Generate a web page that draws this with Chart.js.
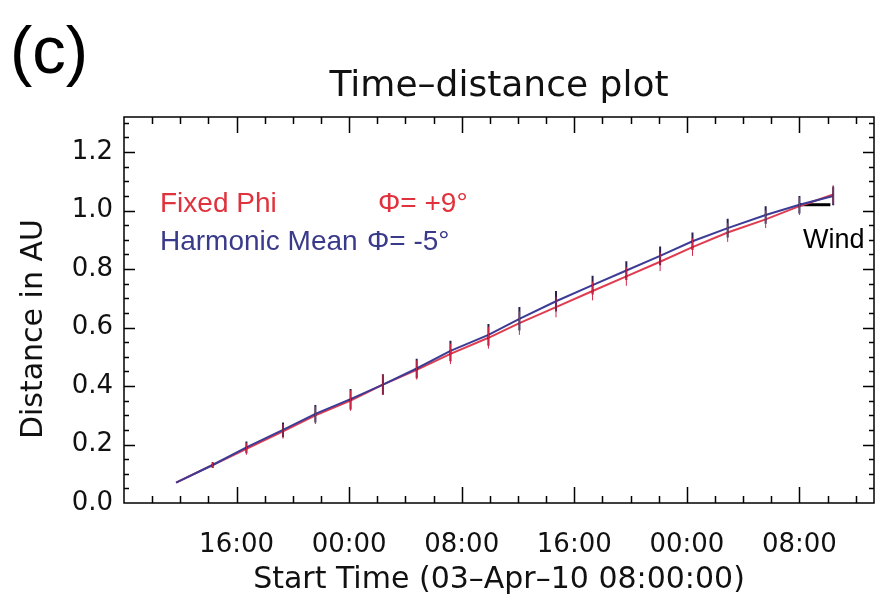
<!DOCTYPE html>
<html lang="en">
  <head>
    <meta charset="UTF-8" />
    <title>Time-distance plot</title>
    <script src="https://cdn.jsdelivr.net/npm/chart.js"></script>
    <style>
      body { margin: 0; background: #fff; }
      #wrap { position: relative; width: 884px; height: 611px; }
      .txt {
        position: absolute;
        font-family: "Liberation Sans", Arial, sans-serif;
        white-space: pre;
        line-height: 1;
      }
      .red { color: #e0323c; }
      .blue { color: #3a3a8a; }
      #plotTitle {
        left: 124px;
        width: 750px;
        top: 66px;
        text-align: center;
        font-family: "DejaVu Sans", sans-serif;
        font-size: 36px;
        color: #111;
      }
    </style>
  </head>
  <body>
    <div id="wrap">
      <canvas id="tdChart" width="884" height="611"></canvas>
      <div class="txt" style="left: 10px; top: 16px; font-size: 67px">(c)</div>
      <div class="txt" id="plotTitle">Time–distance plot</div>
      <div class="txt red" style="left: 160px; top: 189px; font-size: 28px">Fixed Phi</div>
      <div class="txt red" style="left: 378px; top: 189px; font-size: 28px">Φ= +9°</div>
      <div class="txt blue" style="left: 160px; top: 227px; font-size: 28px">Harmonic Mean</div>
      <div class="txt blue" style="left: 367px; top: 227px; font-size: 28px">Φ= -5°</div>
      <div class="txt" style="left: 803px; top: 226px; font-size: 27px">Wind</div>
    </div>
    <script>
      // hours after 03-Apr-10 08:00:00
      const times = [3.7, 6.3, 8.7, 11.3, 13.6, 16.1, 18.4, 20.8, 23.2, 25.9,
                     28.1, 30.7, 33.3, 35.7, 38.1, 40.4, 42.9, 45.6, 48.0, 50.4];
      // distance in AU
      const fixedPhi = [0.07, 0.13, 0.185, 0.245, 0.30, 0.35, 0.405, 0.455, 0.51, 0.565,
                        0.615, 0.67, 0.725, 0.775, 0.825, 0.875, 0.925, 0.97, 1.015, 1.055];
      const harmonicMean = [0.07, 0.13, 0.19, 0.25, 0.305, 0.355, 0.405, 0.46, 0.52, 0.575,
                            0.63, 0.69, 0.745, 0.795, 0.845, 0.895, 0.94, 0.985, 1.02, 1.05];
      const fixedErr = [0, 0.01, 0.02, 0.025, 0.03, 0.035, 0.035, 0.033, 0.035, 0.037,
                        0.04, 0.035, 0.032, 0.032, 0.032, 0.03, 0.032, 0.03, 0.03, 0.032];
      const harmErr = [0, 0.01, 0.02, 0.025, 0.03, 0.035, 0.035, 0.033, 0.035, 0.037,
                       0.04, 0.035, 0.032, 0.032, 0.032, 0.03, 0.032, 0.03, 0.03, 0.032];
      const windTimes = [48.0, 50.2];
      const windDist = [1.02, 1.02];

      const xTicks = [8, 16, 24, 32, 40, 48];
      const xTickLabels = ["16:00", "00:00", "08:00", "16:00", "00:00", "08:00"];
      const yTicks = [0, 0.2, 0.4, 0.6, 0.8, 1.0, 1.2];
      const xMin = 0, xMax = 53.3, yMin = 0, yMax = 1.32;

      const toPts = (xs, ys) => xs.map((t, i) => ({ x: t, y: ys[i] }));

      // vertical error bars on each point
      const errorBars = {
        id: "errorBars",
        afterDatasetsDraw(chart) {
          const { ctx, scales: { x, y } } = chart;
          ctx.save();
          chart.data.datasets.forEach((ds) => {
            if (!ds.errors) return;
            ctx.strokeStyle = ds.errColor;
            ctx.lineWidth = ds.errWidth;
            ctx.beginPath();
            ds.data.forEach((p, i) => {
              const e = ds.errors[i];
              if (!e) return;
              const px = x.getPixelForValue(p.x);
              ctx.moveTo(px, y.getPixelForValue(p.y - e));
              ctx.lineTo(px, y.getPixelForValue(p.y + e));
            });
            ctx.stroke();
          });
          ctx.restore();
        },
      };

      // box with inward ticks on all four sides
      const frameTicks = {
        id: "frameTicks",
        afterDatasetsDraw(chart) {
          const { ctx, chartArea: a, scales: { x, y } } = chart;
          ctx.save();
          ctx.strokeStyle = "#000";
          ctx.lineWidth = 1.5;
          ctx.strokeRect(a.left, a.top, a.right - a.left, a.bottom - a.top);
          ctx.beginPath();
          for (let h = 2; h < xMax; h += 2) {
            const px = Math.round(x.getPixelForValue(h)) + 0.5;
            const len = h % 8 === 0 ? 16 : 7;
            ctx.moveTo(px, a.bottom);
            ctx.lineTo(px, a.bottom - len);
            ctx.moveTo(px, a.top);
            ctx.lineTo(px, a.top + len);
          }
          for (let i = 1; i * 0.05 < yMax; i++) {
            const py = Math.round(y.getPixelForValue(i * 0.05)) + 0.5;
            const len = i % 4 === 0 ? 11 : 5;
            ctx.moveTo(a.left, py);
            ctx.lineTo(a.left + len, py);
            ctx.moveTo(a.right, py);
            ctx.lineTo(a.right - len, py);
          }
          ctx.stroke();
          ctx.restore();
        },
      };

      const tickFont = { family: "DejaVu Sans", size: 26 };

      new Chart(document.getElementById("tdChart"), {
        type: "scatter",
        data: {
          datasets: [
            {
              label: "Harmonic Mean",
              data: toPts(times, harmonicMean),
              showLine: true,
              borderColor: "#3c3c96",
              borderWidth: 2,
              pointRadius: 0,
              errors: harmErr,
              errColor: "#2a2050",
              errWidth: 2,
            },
            {
              label: "Fixed Phi",
              data: toPts(times, fixedPhi),
              showLine: true,
              borderColor: "#e03c50",
              borderWidth: 2,
              pointRadius: 0,
              errors: fixedErr,
              errColor: "#d02848",
              errWidth: 1,
            },
            {
              label: "Wind",
              data: toPts(windTimes, windDist),
              showLine: true,
              borderColor: "#000",
              borderWidth: 3,
              pointRadius: 0,
            },
          ],
        },
        options: {
          responsive: false,
          animation: false,
          events: [],
          layout: { padding: { left: 0, right: 10, top: 117, bottom: 0 } },
          plugins: {
            legend: { display: false },
            tooltip: { enabled: false },
            title: { display: false },
          },
          scales: {
            x: {
              type: "linear",
              min: xMin,
              max: xMax,
              grid: { display: false, drawTicks: false },
              border: { display: false },
              afterBuildTicks: (s) => { s.ticks = xTicks.map((v) => ({ value: v })); },
              afterFit: (s) => { s.height = 108; },
              ticks: {
                autoSkip: false,
                maxRotation: 0,
                padding: 27,
                color: "#111",
                font: tickFont,
                callback: (v) => xTickLabels[xTicks.indexOf(v)],
              },
              title: {
                display: true,
                text: "Start Time (03\u2013Apr\u201310 08:00:00)",
                color: "#111",
                font: { family: "DejaVu Sans", size: 30 },
                padding: { top: 0, bottom: 13 },
              },
            },
            y: {
              type: "linear",
              min: yMin,
              max: yMax,
              grid: { display: false, drawTicks: false },
              border: { display: false },
              afterBuildTicks: (s) => { s.ticks = yTicks.map((v) => ({ value: v })); },
              afterFit: (s) => { s.width = 124; },
              ticks: {
                autoSkip: false,
                padding: 11,
                color: "#111",
                font: tickFont,
                callback: (v) => v.toFixed(1),
              },
              title: {
                display: true,
                text: "Distance in AU    ",
                color: "#111",
                font: { family: "DejaVu Sans", size: 30 },
                padding: { top: 16, bottom: 0 },
              },
            },
          },
        },
        plugins: [errorBars, frameTicks],
      });
    </script>
  </body>
</html>
